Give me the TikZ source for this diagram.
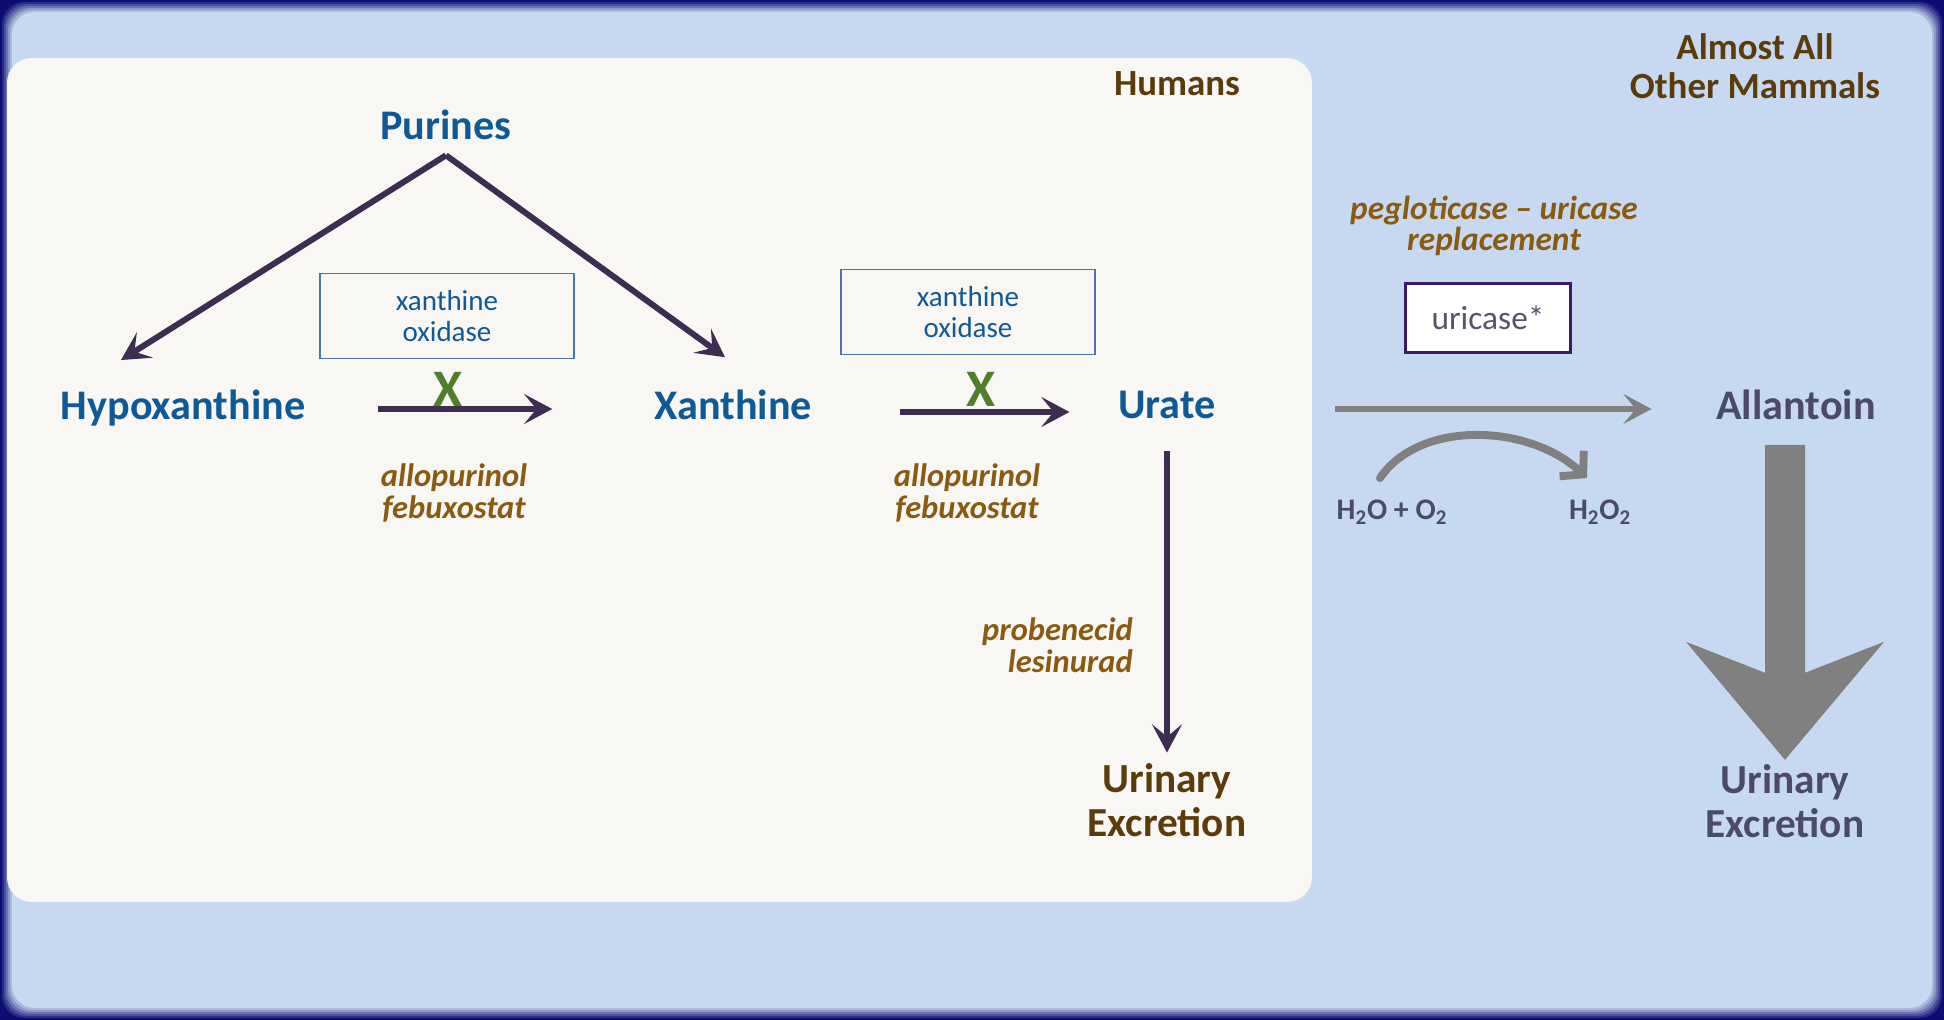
\documentclass[tikz,border=0pt]{standalone}
\usepackage{fontspec}
\setmainfont{Carlito}
\usetikzlibrary{arrows.meta}

\definecolor{bgblue}{HTML}{C6D9F0}
\definecolor{framenavy}{HTML}{0C0C72}
\definecolor{panel}{HTML}{F8F7F3}
\definecolor{molblue}{HTML}{0F5A96}
\definecolor{darkbrown}{HTML}{5C3B0B}
\definecolor{drugbrown}{HTML}{8A5A10}
\definecolor{arrowpurple}{HTML}{3E2D52}
\definecolor{blockgreen}{HTML}{4F7F2A}
\definecolor{slate}{HTML}{4B4B68}
\definecolor{boxblue}{HTML}{4A74AE}
\definecolor{boxpurple}{HTML}{3F1A6B}
\definecolor{arrowgray}{HTML}{808080}
\definecolor{uritext}{HTML}{55556A}

\begin{document}
\begin{tikzpicture}[
    x=0.02cm, y=-0.02cm,
    compound/.style={
        text=molblue,
        inner sep=2pt,
        font=\fontsize{24}{26}\selectfont\bfseries
    },
    title/.style={text=darkbrown, align=center, font=\fontsize{21}{22}\selectfont\bfseries},
    excretion/.style={align=center, inner sep=2pt, font=\fontsize{23.5}{25}\selectfont\bfseries},
    drug/.style={text=drugbrown, align=center, inner sep=0pt, font=\fontsize{18.5}{18}\selectfont\bfseries\itshape},
    enzyme/.style={
        draw=boxblue,
        line width=1.1pt,
        text=molblue,
        align=center,
        inner sep=0pt,
        minimum width=5.08cm,
        minimum height=1.7cm,
        font=\fontsize{16.5}{18}\selectfont
    },
    uribox/.style={
        draw=boxpurple,
        line width=1.6pt,
        fill=white,
        text=uritext,
        inner sep=0pt,
        minimum width=3.3cm,
        minimum height=1.38cm,
        font=\fontsize{19}{19}\selectfont
    },
    block/.style={text=blockgreen, inner sep=0pt, font=\fontsize{30}{30}\selectfont\bfseries},
    gas/.style={text=slate, inner sep=2pt, font=\fontsize{17}{17}\selectfont\bfseries},
    flow/.style={draw=arrowpurple, line width=3.4pt, -{Stealth[length=16pt, width=17pt, inset=7pt]}},
    grayflow/.style={draw=arrowgray, line width=3.4pt, -{Stealth[length=16pt, width=17pt, inset=7pt]}},
    swing/.style={draw=arrowgray, line width=4.5pt, line cap=round, -{Straight Barb[length=9pt, width=20pt]}}
]

% frame and panels
\useasboundingbox (0,0) rectangle (1944,1020);
\fill[framenavy] (0,0) rectangle (1944,1020);
\fill[bgblue!15!framenavy, rounded corners=0.45cm] (2,2) rectangle (1942,1018);
\fill[bgblue!32!framenavy, rounded corners=0.45cm] (4,4) rectangle (1940,1016);
\fill[bgblue!50!framenavy, rounded corners=0.45cm] (6,6) rectangle (1938,1014);
\fill[bgblue!68!framenavy, rounded corners=0.45cm] (8,8) rectangle (1936,1012);
\fill[bgblue!84!framenavy, rounded corners=0.45cm] (10,10) rectangle (1934,1010);
\fill[bgblue, rounded corners=0.45cm] (12,12) rectangle (1932,1008);
\fill[panel, rounded corners=0.5cm] (7,58) rectangle (1312,902);

\node[title] (humans) at (1177,84) {Humans};
\node[title] (mammals) at (1755,66) {Almost All\\Other Mammals};

\node[compound] (pur) at (446,125) {Purines};
\node[compound] (hypo) at (183,408) {Hypoxanthine};
\node[compound] (xan) at (733,405) {Xanthine};
\node[compound] (urate) at (1167,405) {Urate};
\node[compound, text=slate] (allan) at (1796,405) {Allantoin};

\node[enzyme] (xo1) at (447,316) {xanthine\\oxidase};
\node[enzyme] (xo2) at (968,312) {xanthine\\oxidase};
\node[block] (x1) at (448,389) {X};
\node[block] (x2) at (981,389) {X};

\node[drug] (inhib1) at (454,493) {allopurinol\\febuxostat};
\node[drug] (inhib2) at (967,493) {allopurinol\\febuxostat};
\node[drug, align=right, anchor=east] (urico) at (1133,645) {probenecid\\lesinurad};
\node[drug, font=\fontsize{19}{17.5}\selectfont\bfseries\itshape] (pegl) at (1494,226) {pegloticase -- uricase\\replacement};
\node[uribox] (uric) at (1488,318) {uricase*};

\node[excretion, text=darkbrown] (urhum) at (1167,800) {Urinary\\Excretion};
\node[excretion, text=slate] (urmam) at (1785,801) {Urinary\\Excretion};

\node[gas] (h2o) at (1392,512) {H\textsubscript{2}O + O\textsubscript{2}};
\node[gas] (h2o2) at (1600,512) {H\textsubscript{2}O\textsubscript{2}};

% human pathway
\draw[flow] ([yshift=-0.23cm]pur.south) -- ([shift={(-62,-26)}]hypo.north);
\draw[flow] ([yshift=-0.23cm]pur.south) -- ([shift={(-8,-29)}]xan.north);
\draw[flow] ([shift={(69,1)}]hypo.east) -- ([shift={(-98,4)}]xan.west);
\draw[flow] ([shift={(84,7)}]xan.east) -- ([shift={(-45,7)}]urate.west);
\draw[flow] ([yshift=-0.56cm]urate.south) -- ([yshift=0.14cm]urhum.north);

% other mammals
\draw[grayflow] ([shift={(115,4)}]urate.east) -- ([shift={(-61,4)}]allan.west);
\draw[swing] ([shift={(-12,-18)}]h2o.north) .. controls +(40,-59) and +(-57,-54) .. ([shift={(-13,-18)}]h2o2.north);
\fill[arrowgray] ([shift={(-31,21)}]allan.south) -- ++(0,228) -- ++(-79,-31) -- ++(99,118)
    -- ++(99,-118) -- ++(-79,31) -- ++(0,-228) -- cycle;

\end{tikzpicture}
\end{document}
